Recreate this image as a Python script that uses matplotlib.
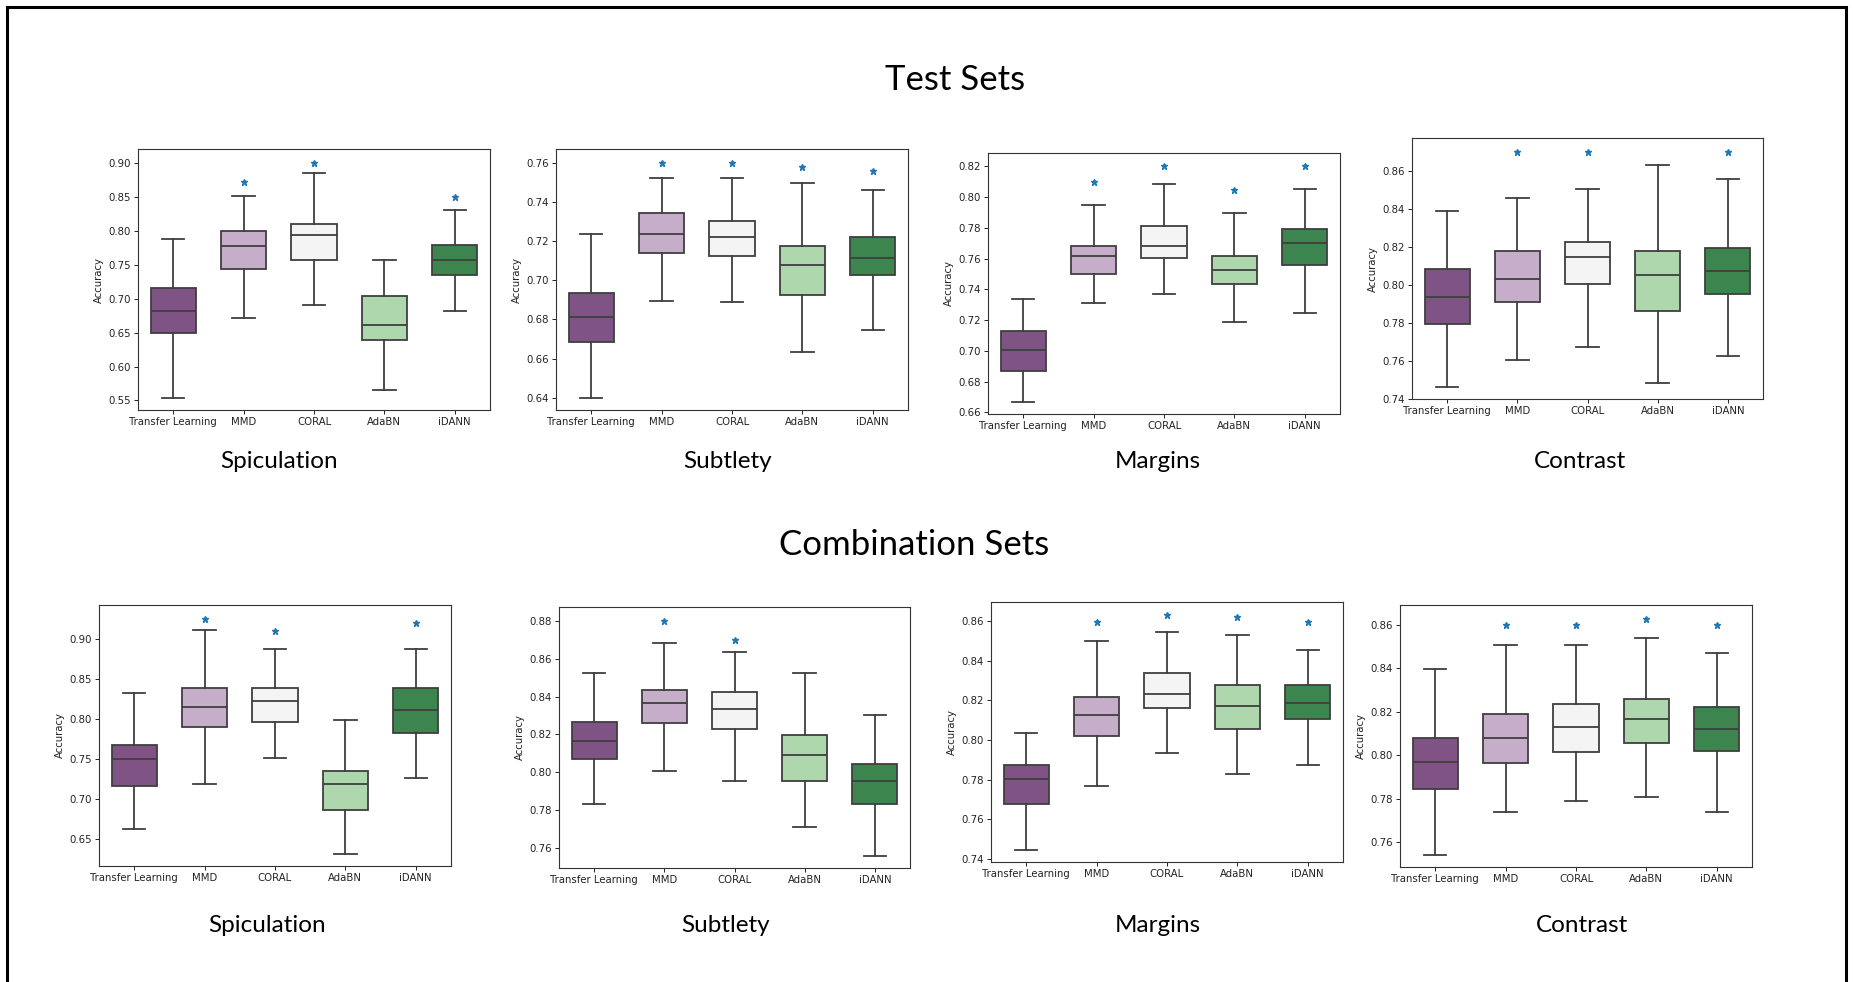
import matplotlib
matplotlib.use('Agg')
import matplotlib.pyplot as plt
from matplotlib.patches import Rectangle
from matplotlib.ticker import MultipleLocator
import numpy as np

methods = ['Transfer Learning', 'MMD', 'CORAL', 'AdaBN', 'iDANN']
colors = ['#7f5384', '#c6aecb', '#f4f4f4', '#afd7ae', '#3d854f']
subtitles = ['Spiculation', 'Subtlety', 'Margins', 'Contrast']

# rows: test sets (4 panels) then combination sets (4 panels); cols: methods
whis_lo = [[0.554, 0.671, 0.691, 0.565, 0.681],
           [0.640, 0.6895, 0.6887, 0.6633, 0.6747],
           [0.6667, 0.731, 0.7368, 0.7186, 0.7245],
           [0.7461, 0.7604, 0.7672, 0.7484, 0.7626],
           [0.6621, 0.7179, 0.7504, 0.6304, 0.7263],
           [0.7831, 0.8004, 0.7953, 0.7708, 0.7556],
           [0.7447, 0.777, 0.7933, 0.7831, 0.7873],
           [0.7542, 0.7738, 0.7789, 0.7808, 0.7738]]
q1 = [[0.650, 0.743, 0.756, 0.639, 0.735],
      [0.6686, 0.7137, 0.7123, 0.6922, 0.7027],
      [0.6871, 0.7503, 0.7603, 0.7436, 0.756],
      [0.7795, 0.7912, 0.8002, 0.7865, 0.7953],
      [0.7158, 0.7896, 0.7963, 0.6858, 0.7821],
      [0.8069, 0.8258, 0.823, 0.7953, 0.7831],
      [0.7677, 0.8018, 0.8159, 0.8054, 0.8106],
      [0.7845, 0.7965, 0.8017, 0.8058, 0.8018]]
med = [[0.681, 0.777, 0.793, 0.661, 0.756],
       [0.681, 0.7236, 0.7222, 0.7076, 0.7112],
       [0.7006, 0.7618, 0.7683, 0.7529, 0.7699],
       [0.7937, 0.803, 0.8146, 0.8053, 0.8075],
       [0.750, 0.815, 0.8221, 0.7179, 0.8113],
       [0.8165, 0.8368, 0.8336, 0.8092, 0.7953],
       [0.7802, 0.8126, 0.8233, 0.8174, 0.8188],
       [0.7969, 0.8077, 0.8129, 0.8166, 0.8122]]
q3 = [[0.715, 0.800, 0.809, 0.703, 0.779],
      [0.6936, 0.7341, 0.7304, 0.7173, 0.7222],
      [0.713, 0.7683, 0.781, 0.7618, 0.7796],
      [0.8086, 0.8177, 0.8225, 0.8177, 0.8195],
      [0.7671, 0.8388, 0.8388, 0.7346, 0.8388],
      [0.8264, 0.8436, 0.8422, 0.8197, 0.8041],
      [0.7873, 0.8215, 0.8339, 0.8277, 0.8277],
      [0.8077, 0.8188, 0.8235, 0.8257, 0.822]]
whis_hi = [[0.788, 0.851, 0.884, 0.756, 0.830],
           [0.7236, 0.7522, 0.7522, 0.7498, 0.746],
           [0.734, 0.7948, 0.8083, 0.7896, 0.8054],
           [0.8386, 0.8454, 0.8504, 0.8628, 0.8554],
           [0.8317, 0.9108, 0.8867, 0.7983, 0.8867],
           [0.8526, 0.8685, 0.8634, 0.8526, 0.830],
           [0.8037, 0.8498, 0.8543, 0.8531, 0.8455],
           [0.8398, 0.8506, 0.8506, 0.8542, 0.8469]]
# significance stars (None = no star)
star_y = [[None, 0.871, 0.900, None, 0.850],
          [None, 0.760, 0.760, 0.758, 0.756],
          [None, 0.8098, 0.820, 0.8048, 0.820],
          [None, 0.870, 0.870, None, 0.870],
          [None, 0.9246, 0.9096, None, 0.9196],
          [None, 0.880, 0.8699, None, None],
          [None, 0.8597, 0.863, 0.862, 0.8597],
          [None, 0.860, 0.860, 0.8628, 0.860]]
ylims = [(0.536, 0.920), (0.6337, 0.767), (0.659, 0.8287), (0.74, 0.8772),
         (0.6158, 0.942), (0.7492, 0.8874), (0.7385, 0.8696), (0.7485, 0.8692)]
ystep = [0.05, 0.02, 0.02, 0.02, 0.05, 0.02, 0.02, 0.02]

W, H = 1853, 982
# axes boxes in pixels: left, right, top, bottom
boxes = [(138, 490, 149, 410), (556, 908, 149, 410), (988, 1340, 153, 414), (1412, 1763, 138, 399),
         (99, 451, 605, 866), (559, 910, 607, 868), (991, 1343, 602, 862), (1400, 1752, 605, 867)]

fig = plt.figure(figsize=(W / 100, H / 100), dpi=100)

for i, (l, r, t, b) in enumerate(boxes):
    ax = fig.add_axes([l / W, 1 - b / H, (r - l) / W, (b - t) / H])
    stats = []
    for j in range(5):
        stats.append(dict(whislo=whis_lo[i][j], q1=q1[i][j], med=med[i][j],
                          q3=q3[i][j], whishi=whis_hi[i][j], fliers=[]))
    edge = '#3f3f3f'
    bp = ax.bxp(stats, positions=range(5), widths=0.64, patch_artist=True, showfliers=False,
                boxprops=dict(edgecolor=edge, linewidth=1.3),
                medianprops=dict(color=edge, linewidth=1.3),
                whiskerprops=dict(color=edge, linewidth=1.3),
                capprops=dict(color=edge, linewidth=1.3), capwidths=0.32)
    for patch, c in zip(bp['boxes'], colors):
        patch.set_facecolor(c)
    for j in range(5):
        if star_y[i][j] is not None:
            ax.plot(j, star_y[i][j], marker='*', color='#1f77b4', markersize=5, linestyle='none')
    ax.set_xlim(-0.5, 4.5)
    ax.set_ylim(*ylims[i])
    ax.yaxis.set_major_locator(MultipleLocator(ystep[i]))
    ax.yaxis.set_major_formatter(matplotlib.ticker.FormatStrFormatter('%.2f'))
    ax.set_xticks(range(5))
    ax.set_xticklabels(methods)
    ax.tick_params(labelsize=7.3, length=3, width=0.7, pad=2, colors='#222222')
    ax.set_ylabel('Accuracy', fontsize=7.3, labelpad=3, color='#222222')
    for s in ax.spines.values():
        s.set_linewidth(0.8)
        s.set_color('#333333')

title_font = ['Lato', 'DejaVu Sans']
fig.text(955 / W, 1 - 80 / H, 'Test Sets', ha='center', va='center', fontsize=25, family=title_font)
fig.text(914 / W, 1 - 545 / H, 'Combination Sets', ha='center', va='center', fontsize=25, family=title_font)
top_x = [279, 728, 1158, 1580]
bot_x = [267, 726, 1158, 1582]
for k, name in enumerate(subtitles):
    fig.text(top_x[k] / W, 1 - 461 / H, name, ha='center', va='center', fontsize=17.5, family=title_font)
    fig.text(bot_x[k] / W, 1 - 926 / H, name, ha='center', va='center', fontsize=17.5, family=title_font)

fig.patches.append(Rectangle((7 / W, -0.05), 1839 / W, 1.05 - 7 / H, transform=fig.transFigure,
                             fill=False, edgecolor='black', linewidth=2.2))

fig.savefig('out.png', dpi=100)
